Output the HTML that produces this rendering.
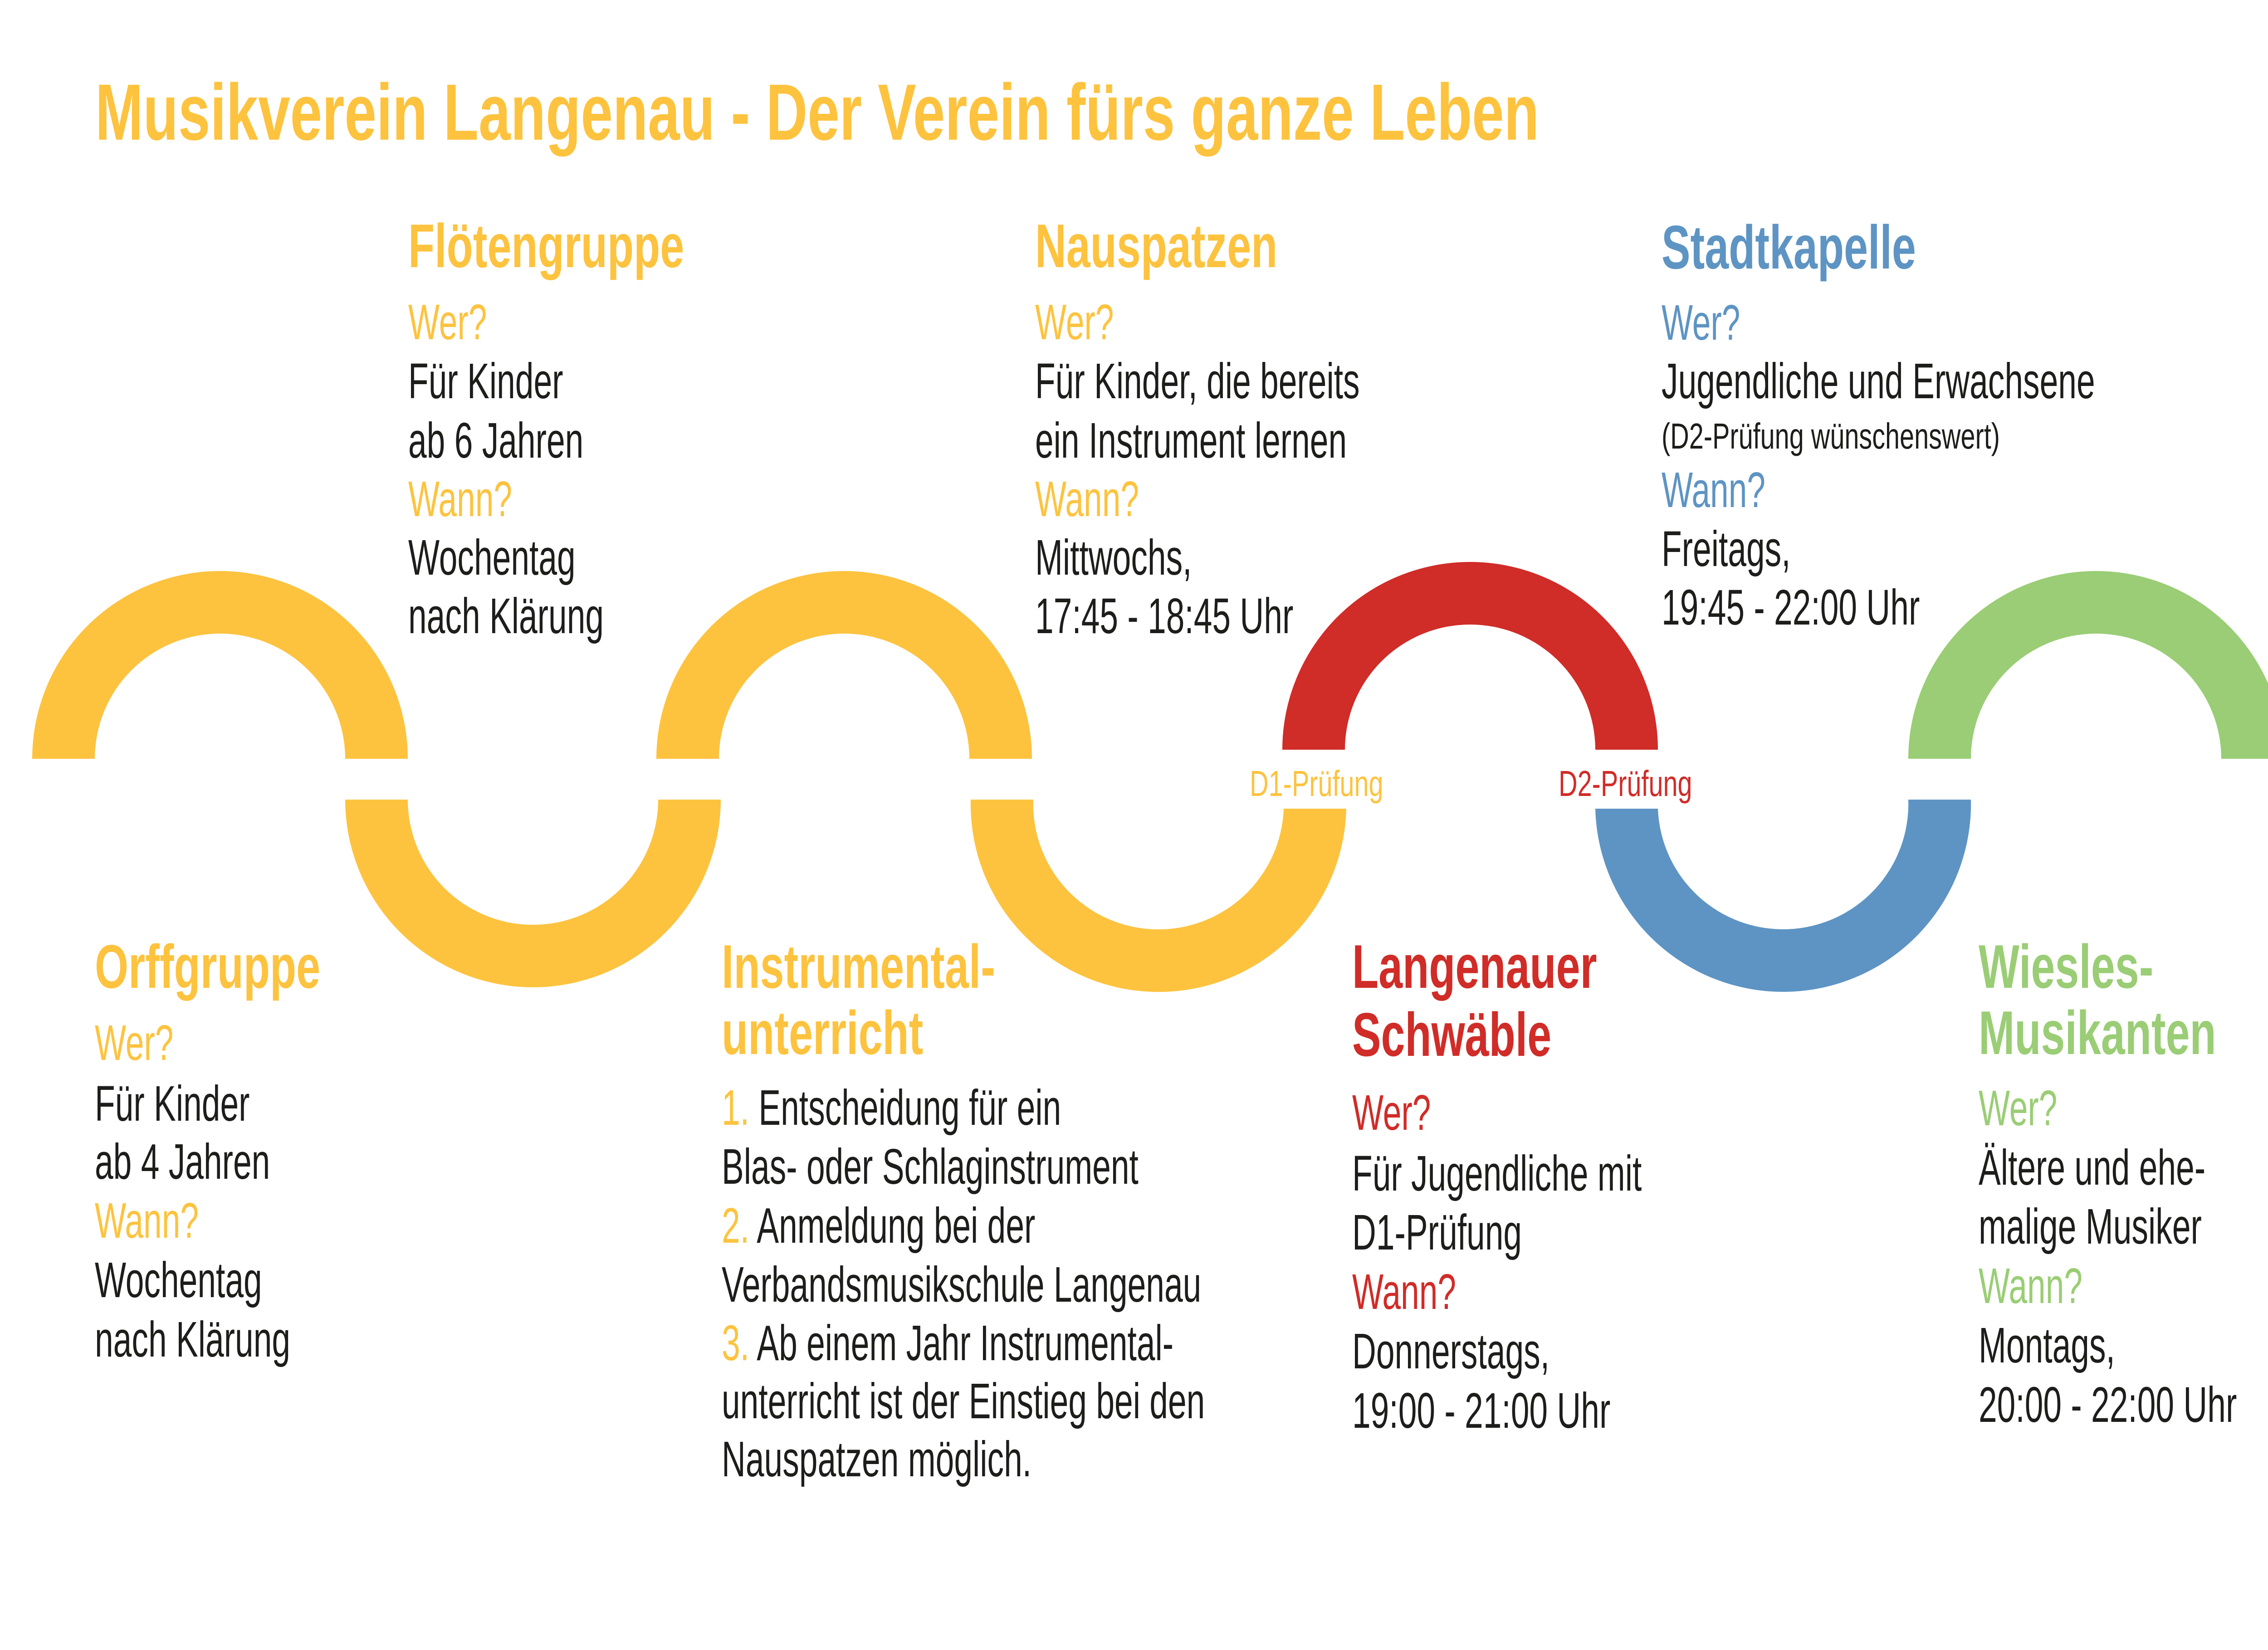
<!DOCTYPE html>
<html><head><meta charset="utf-8"><style>
html,body{margin:0;padding:0;background:#fff}
body{width:5102px;height:3638px;position:relative;overflow:hidden;font-family:"Liberation Sans",sans-serif}
.l{position:absolute;white-space:nowrap;line-height:1;transform-origin:0 0;transform:scaleX(0.665);color:#1d1d1b;font-size:110px}
.h{font-weight:bold;font-size:136px;transform:scaleX(0.70)}
.t{font-weight:bold;font-size:176px;transform:scaleX(0.72)}
.s{font-size:80px;transform:scaleX(0.72)}
.y{color:#FDC33F}.r{color:#D02C28}.b{color:#5D94C3}.g{color:#9ACD75}
</style></head><body>
<svg width="5102" height="3638" style="position:absolute;left:0;top:0">
<g fill="#FDC33F">
<path d="M71 1673 A414 414 0 0 1 899 1673 L761 1673 A276 276 0 0 0 209 1673 Z"/>
<path d="M1447 1673 A414 414 0 0 1 2275 1673 L2137 1673 A276 276 0 0 0 1585 1673 Z"/>
<path d="M761 1763 A414 414 0 0 0 1589 1763 L1451 1763 A276 276 0 0 1 899 1763 Z"/>
<path d="M2140 1763 A414 414 0 0 0 2968 1783 L2830 1783 A276 276 0 0 1 2278 1763 Z"/>
</g>
<path fill="#D02C28" d="M2827 1653 A414 414 0 0 1 3655 1653 L3517 1653 A276 276 0 0 0 2965 1653 Z"/>
<path fill="#9ACD75" d="M4207 1673 A414 414 0 0 1 5035 1673 L4897 1673 A276 276 0 0 0 4345 1673 Z"/>
<path fill="#5D94C3" d="M3517 1783 A414 414 0 0 0 4345 1763 L4207 1763 A276 276 0 0 1 3655 1783 Z"/>
</svg>

<div class="l t y" style="left:210px;top:160px">Musikverein Langenau - Der Verein fürs ganze Leben</div>

<div class="l h y" style="left:900px;top:474px">Flötengruppe</div>
<div class="l y" style="left:900px;top:656px">Wer?</div>
<div class="l" style="left:900px;top:786px">Für Kinder</div>
<div class="l" style="left:900px;top:917px">ab 6 Jahren</div>
<div class="l y" style="left:900px;top:1046px">Wann?</div>
<div class="l" style="left:900px;top:1175px">Wochentag</div>
<div class="l" style="left:900px;top:1304px">nach Klärung</div>

<div class="l h y" style="left:2282px;top:474px">Nauspatzen</div>
<div class="l y" style="left:2282px;top:656px">Wer?</div>
<div class="l" style="left:2282px;top:786px">Für Kinder, die bereits</div>
<div class="l" style="left:2282px;top:917px">ein Instrument lernen</div>
<div class="l y" style="left:2282px;top:1046px">Wann?</div>
<div class="l" style="left:2282px;top:1175px">Mittwochs,</div>
<div class="l" style="left:2282px;top:1304px">17:45 - 18:45 Uhr</div>

<div class="l h b" style="left:3663px;top:477px">Stadtkapelle</div>
<div class="l b" style="left:3663px;top:657px">Wer?</div>
<div class="l" style="left:3663px;top:786px">Jugendliche und Erwachsene</div>
<div class="l s" style="left:3663px;top:922px">(D2-Prüfung wünschenswert)</div>
<div class="l b" style="left:3663px;top:1026px">Wann?</div>
<div class="l" style="left:3663px;top:1156px">Freitags,</div>
<div class="l" style="left:3663px;top:1285px">19:45 - 22:00 Uhr</div>

<div class="l s y" style="left:2755px;top:1688px">D1-Prüfung</div>
<div class="l s r" style="left:3436px;top:1688px">D2-Prüfung</div>

<div class="l h y" style="left:209px;top:2063px">Orffgruppe</div>
<div class="l y" style="left:209px;top:2245px">Wer?</div>
<div class="l" style="left:209px;top:2379px">Für Kinder</div>
<div class="l" style="left:209px;top:2507px">ab 4 Jahren</div>
<div class="l y" style="left:209px;top:2637px">Wann?</div>
<div class="l" style="left:209px;top:2768px">Wochentag</div>
<div class="l" style="left:209px;top:2899px">nach Klärung</div>

<div class="l h y" style="left:1591px;top:2063px">Instrumental-</div>
<div class="l h y" style="left:1591px;top:2209px">unterricht</div>
<div class="l" style="left:1591px;top:2388px"><span class="y">1.</span> Entscheidung für ein</div>
<div class="l" style="left:1591px;top:2518px">Blas- oder Schlaginstrument</div>
<div class="l" style="left:1591px;top:2648px"><span class="y">2.</span> Anmeldung bei der</div>
<div class="l" style="left:1591px;top:2778px">Verbandsmusikschule Langenau</div>
<div class="l" style="left:1591px;top:2907px"><span class="y">3.</span> Ab einem Jahr Instrumental-</div>
<div class="l" style="left:1591px;top:3035px">unterricht ist der Einstieg bei den</div>
<div class="l" style="left:1591px;top:3163px">Nauspatzen möglich.</div>

<div class="l h r" style="left:2981px;top:2063px">Langenauer</div>
<div class="l h r" style="left:2981px;top:2213px">Schwäble</div>
<div class="l r" style="left:2981px;top:2399px">Wer?</div>
<div class="l" style="left:2981px;top:2533px">Für Jugendliche mit</div>
<div class="l" style="left:2981px;top:2663px">D1-Prüfung</div>
<div class="l r" style="left:2981px;top:2794px">Wann?</div>
<div class="l" style="left:2981px;top:2925px">Donnerstags,</div>
<div class="l" style="left:2981px;top:3056px">19:00 - 21:00 Uhr</div>

<div class="l h g" style="left:4362px;top:2063px">Wiesles-</div>
<div class="l h g" style="left:4362px;top:2209px">Musikanten</div>
<div class="l g" style="left:4362px;top:2389px">Wer?</div>
<div class="l" style="left:4362px;top:2520px">Ältere und ehe-</div>
<div class="l" style="left:4362px;top:2650px">malige Musiker</div>
<div class="l g" style="left:4362px;top:2781px">Wann?</div>
<div class="l" style="left:4362px;top:2912px">Montags,</div>
<div class="l" style="left:4362px;top:3043px">20:00 - 22:00 Uhr</div>
</body></html>
